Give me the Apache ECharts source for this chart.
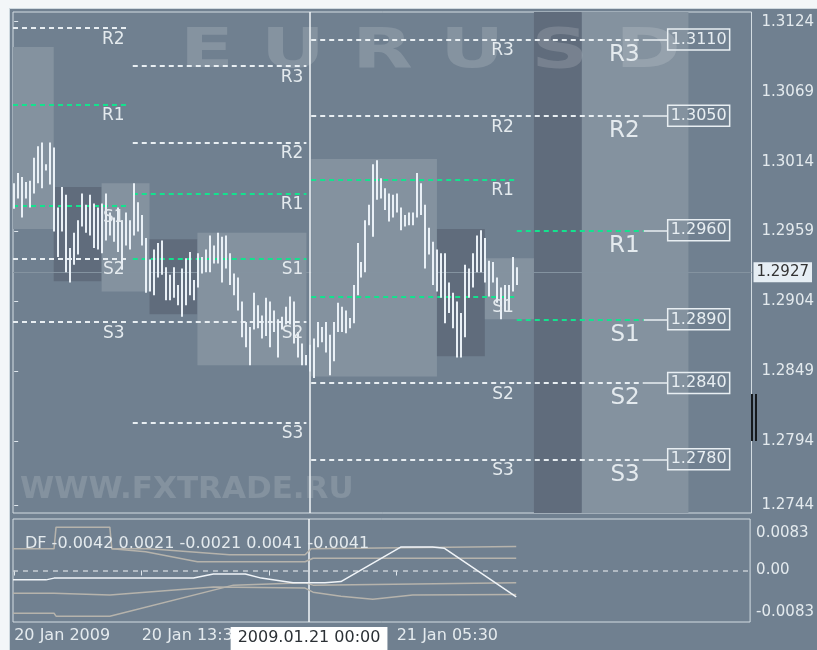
<!DOCTYPE html>
<html>
<head>
<meta charset="utf-8">
<title>EURUSD pivots</title>
<script src="https://cdn.jsdelivr.net/npm/echarts@6/dist/echarts.min.js"></script>
<style>
  html, body { margin: 0; padding: 0; background: #f3f6f8; }
  #chart { width: 817px; height: 650px; }
</style>
</head>
<body>
<div id="chart"></div>
<script>
// M15 bars, index 0 = 20 Jan 05:30, one step = 15 min
const barHigh = [
  1.2997, 1.3005, 1.3002, 1.2998, 1.2999, 1.3017, 1.3026, 1.3029, 1.3012, 1.3029,
  1.3025, 1.2978, 1.2994, 1.2988, 1.2946, 1.2958, 1.2968, 1.2989, 1.2980, 1.2988,
  1.2981, 1.2978, 1.2981, 1.2989, 1.2974, 1.2970, 1.2978, 1.2968, 1.2974, 1.2968,
  1.2997, 1.2982, 1.2972, 1.2954, 1.2937, 1.2945, 1.2950, 1.2952, 1.2931, 1.2925,
  1.2931, 1.2917, 1.2930, 1.2938, 1.2943, 1.2921, 1.2942, 1.2939, 1.2945, 1.2956,
  1.2948, 1.2958, 1.2955, 1.2956, 1.2942, 1.2926, 1.2923, 1.2904, 1.2888, 1.2884,
  1.2911, 1.2901, 1.2893, 1.2907, 1.2904, 1.2897, 1.2890, 1.2892, 1.2900, 1.2908,
  1.2904, 1.2880, 1.2871, 1.2862, 1.2870, 1.2875, 1.2888, 1.2884, 1.2888, 1.2878,
  1.2888, 1.2903, 1.2900, 1.2897, 1.2891, 1.2917, 1.2950, 1.2935, 1.2968, 1.2980,
  1.3012, 1.3015, 1.3001, 1.2993, 1.2989, 1.2988, 1.2989, 1.2978, 1.2972, 1.2974,
  1.2974, 1.3005, 1.2997, 1.2980, 1.2962, 1.2951, 1.2945, 1.2942, 1.2942, 1.2919,
  1.2911, 1.2904, 1.2895, 1.2933, 1.2930, 1.2942, 1.2956, 1.2960, 1.2954, 1.2936,
  1.2935, 1.2923, 1.2915, 1.2917, 1.2917, 1.2939, 1.2931
];
const barLow = [
  1.2977, 1.2985, 1.2970, 1.2985, 1.2978, 1.2989, 1.2997, 1.2993, 1.3007, 1.2996,
  1.2959, 1.2939, 1.2959, 1.2927, 1.2919, 1.2933, 1.2941, 1.2963, 1.2958, 1.2956,
  1.2946, 1.2945, 1.2942, 1.2952, 1.2956, 1.2951, 1.2943, 1.2929, 1.2948, 1.2945,
  1.2956, 1.2959, 1.2948, 1.2911, 1.2912, 1.2909, 1.2923, 1.2925, 1.2905, 1.2905,
  1.2907, 1.2901, 1.2892, 1.2901, 1.2909, 1.2905, 1.2915, 1.2926, 1.2927, 1.2927,
  1.2934, 1.2934, 1.2919, 1.2930, 1.2917, 1.2909, 1.2897, 1.2876, 1.2868, 1.2854,
  1.2882, 1.2883, 1.2875, 1.2877, 1.2868, 1.2880, 1.2860, 1.2882, 1.2886, 1.2886,
  1.2871, 1.2860, 1.2854, 1.2854, 1.2849, 1.2844, 1.2868, 1.2872, 1.2864, 1.2846,
  1.2857, 1.2880, 1.2880, 1.2879, 1.2883, 1.2887, 1.2909, 1.2923, 1.2927, 1.2964,
  1.2955, 1.2984, 1.2985, 1.2976, 1.2967, 1.2970, 1.2974, 1.2960, 1.2963, 1.2964,
  1.2964, 1.2970, 1.2972, 1.2930, 1.2941, 1.2917, 1.2912, 1.2907, 1.2887, 1.2895,
  1.2883, 1.2860, 1.2860, 1.2876, 1.2907, 1.2915, 1.2927, 1.2927, 1.2919, 1.2908,
  1.2919, 1.2903, 1.2890, 1.2896, 1.2897, 1.2912, 1.2917
];
const lastPrice = 1.2927;

// session boxes: [from, to, high, low, kind]  kind 1 = light, 0 = dark
const sessionBoxes = [
  [-0.3, 9.9, 1.3104, 1.2961, 1],
  [9.9, 21.9, 1.2994, 1.2920, 0],
  [21.9, 33.9, 1.2997, 1.2912, 1],
  [33.9, 45.9, 1.2953, 1.2894, 0],
  [45.9, 73.2, 1.2958, 1.2854, 1],
  [74.4, 105.9, 1.3016, 1.2845, 1],
  [105.9, 117.9, 1.2961, 1.2861, 0],
  [117.9, 130.2, 1.2938, 1.2890, 1]
];
// full height zones in the future part: [from, to, kind]
const futureZones = [
  [130.2, 142.2, 0],
  [142.2, 168.9, 1]
];

// pivot levels R3 R2 R1 S1 S2 S3
const pivotNames = ['R3', 'R2', 'R1', 'S1', 'S2', 'S3'];
const pivotsJan19 = [null, 1.3119, 1.3059, 1.2979, 1.2938, 1.2888];
const pivotsJan20 = [1.3089, 1.3029, 1.2989, 1.2938, 1.2888, 1.2809];
const pivotsJan21 = [1.3110, 1.3050, 1.3000, 1.2908, 1.2840, 1.2780];
const pivotsJan22 = [1.3110, 1.3050, 1.2960, 1.2890, 1.2840, 1.2780];
const spanJan19 = [-0.3, 28.4];
const spanJan20 = [29.7, 73.2];
const spanJan21 = [74.4, 125.9];
const spanJan22 = [125.9, 157.7];
const spanTag = [157.7, 163.7];

const priceTicks = [1.3124, 1.3069, 1.3014, 1.2959, 1.2904, 1.2849, 1.2794, 1.2744];
const timeTicks = [0, 32, 64, 96];
const timeLabels = ['20 Jan 2009', '20 Jan 13:30', '20 Jan 21:30', '21 Jan 05:30'];
const crossIdx = 74;
const crossLabel = '2009.01.21 00:00';

// DF indicator
const dfValues = [-0.0042, 0.0021, -0.0021, 0.0041, -0.0041];
const dfTicks = [0.0083, 0, -0.0083];
const dfTickLabels = ['0.0083', '0.00', '-0.0083'];
const dfMain = [[-0.3, -0.0016], [8, -0.0016], [10, -0.0013], [45, -0.0013], [50, -0.0006], [58, -0.0006],
  [62, -0.0013], [70, -0.0021], [78, -0.0021], [82, -0.0019], [97, 0.0040], [105, 0.0040], [108, 0.0038], [126, -0.0045]];
const dfUp1 = [[-0.3, 0.0037], [10, 0.0037], [10.5, 0.0074], [24, 0.0074], [24.5, 0.0037], [34, 0.0037],
  [54, 0.0027], [73, 0.0027], [74.5, 0.0037], [126, 0.0041]];
const dfUp2 = [[24.5, 0.0037], [33, 0.0032], [46, 0.0015], [73, 0.0015], [75, 0.0021], [126, 0.0021]];
const dfDn1 = [[-0.3, -0.0039], [10, -0.0039], [10.5, -0.0042], [24, -0.0042], [50, -0.0028], [73, -0.0030],
  [75, -0.0037], [82, -0.0044], [90, -0.0049], [100, -0.0042], [126, -0.0041]];
const dfDn2 = [[-0.3, -0.0073], [10, -0.0073], [10.5, -0.0078], [24, -0.0078], [55, -0.0025], [73, -0.0021],
  [75, -0.0025], [126, -0.0021]];

const bg = '#708090', lightZone = '#84929f', darkZone = '#606c7c';
const txt = '#e4eaee', white = '#e8eef2', green = '#14e28e', dfGray = '#b6b3ac';

function pivotLines(levels, span, label) {
  let out = []
  levels.forEach((v, k) => {
    if (v == null) return
    out.push([{
      coord: [span[0], v],
      lineStyle: {color: (k === 2 || k === 3) ? green : white, type: [5, 4], width: 2},
      label: Object.assign({show: true, position: 'insideEndBottom', formatter: pivotNames[k]}, label)
    }, {coord: [span[1], v]}])
  })
  return out
}

let pivotData = []
  .concat(pivotLines(pivotsJan19, spanJan19, {color: txt, fontSize: 17, distance: 3}))
  .concat(pivotLines(pivotsJan20, spanJan20, {color: txt, fontSize: 17, distance: 3}))
  .concat(pivotLines(pivotsJan21, spanJan21, {color: txt, fontSize: 17, distance: 3}))
  .concat(pivotLines(pivotsJan22, spanJan22, {color: txt, fontSize: 23, distance: 4}))

pivotsJan22.forEach(v => {
  pivotData.push([{
    coord: [spanTag[0], v],
    lineStyle: {color: white, type: 'solid', width: 1.5},
    label: {show: true, position: 'end', distance: 0, formatter: v.toFixed(4), color: white, fontSize: 16,
      borderColor: white, borderWidth: 1.5, padding: [3, 3, 2, 3]}
  }, {coord: [spanTag[1], v]}])
})

pivotData.push({
  yAxis: lastPrice,
  lineStyle: {color: '#8493a0', type: 'solid', width: 1},
  label: {show: true, position: 'end', distance: 2, formatter: lastPrice.toFixed(4), color: '#333', fontSize: 15,
    backgroundColor: '#e6eef4', padding: [3, 3, 2, 3]}
})

let bars = barHigh.map((h, i) => [i, h, barLow[i]])

let chart = echarts.init(document.getElementById('chart'))
let option = {
  animation: false,
  backgroundColor: bg,
  textStyle: {fontFamily: 'DejaVu Sans'},
  title: {
    text: 'DF ' + dfValues.map(v => v.toFixed(4)).join(' '),
    left: 20, top: 531,
    textStyle: {color: txt, fontSize: 16, fontWeight: 'normal'}
  },
  graphic: [
    {type: 'rect', z: 50, shape: {x: 0, y: 0, width: 817, height: 8}, style: {fill: '#f3f6f8'}},
    {type: 'rect', z: 50, shape: {x: 0, y: 0, width: 9, height: 650}, style: {fill: '#f3f6f8'}},
    {type: 'line', z: 50, shape: {x1: 9, y1: 8.5, x2: 817, y2: 8.5}, style: {stroke: '#cfd9df', lineWidth: 1}},
    {type: 'line', z: 50, shape: {x1: 9.5, y1: 8, x2: 9.5, y2: 650}, style: {stroke: '#cfd9df', lineWidth: 1}},
    {type: 'text', z: 3, x: 180, y: 25, scaleX: 1.43,
      style: {text: 'E U R U S D', font: 'bold 55px DejaVu Sans', fill: 'rgba(255,255,255,0.15)', align: 'left', verticalAlign: 'top'}},
    {type: 'text', z: 3, x: 20, y: 474,
      style: {text: 'WWW.FXTRADE.RU', font: 'bold 31px DejaVu Sans', fill: 'rgba(255,255,255,0.14)', align: 'left', verticalAlign: 'top'}},
    {type: 'line', z: 50, shape: {x1: 752, y1: 394, x2: 752, y2: 441}, style: {stroke: '#161a1e', lineWidth: 2}},
    {type: 'line', z: 50, shape: {x1: 756, y1: 394, x2: 756, y2: 441}, style: {stroke: '#161a1e', lineWidth: 2}}
  ],
  grid: [
    {left: 13, top: 12, width: 740, height: 501, show: true, borderColor: '#d3dce2', borderWidth: 1, backgroundColor: 'transparent'},
    {left: 13, top: 519, width: 740, height: 103, show: true, borderColor: '#d3dce2', borderWidth: 1, backgroundColor: 'transparent'}
  ],
  xAxis: [
    {type: 'value', gridIndex: 0, min: -0.3, max: 184.7, axisLine: {show: false}, axisTick: {show: false},
      axisLabel: {show: false}, splitLine: {show: false}},
    {type: 'value', gridIndex: 1, min: -0.3, max: 184.7, axisLine: {show: false},
      axisTick: {show: true, customValues: timeTicks, length: 5, lineStyle: {color: '#dfe6ec'}},
      axisLabel: {customValues: timeTicks, formatter: v => timeLabels[timeTicks.indexOf(v)] || '',
        align: 'left', color: txt, fontSize: 16, margin: 6},
      splitLine: {show: false}}
  ],
  yAxis: [
    {type: 'value', gridIndex: 0, position: 'right', min: 1.27378, max: 1.31316, axisLine: {show: false},
      axisTick: {show: true, customValues: priceTicks, length: 4, lineStyle: {color: '#dfe6ec'}},
      axisLabel: {customValues: priceTicks, formatter: v => v.toFixed(4), color: txt, fontSize: 15, margin: 10},
      splitLine: {show: false}},
    {type: 'value', gridIndex: 1, position: 'right', min: -0.0088, max: 0.0088, axisLine: {show: false},
      axisTick: {show: false},
      axisLabel: {customValues: dfTicks, margin: 6,
        formatter: v => {
          let s = dfTickLabels[dfTicks.indexOf(v)]
          return v > 0 ? '{t|' + s + '}' : v < 0 ? '{b|' + s + '}' : '{m|' + s + '}'
        },
        rich: {
          t: {color: txt, fontSize: 15, padding: [22, 0, 0, 0]},
          m: {color: txt, fontSize: 15},
          b: {color: txt, fontSize: 15, padding: [0, 0, 14, 0]}
        }},
      splitLine: {show: false}}
  ],
  series: [
    {
      name: 'sessions', type: 'custom', xAxisIndex: 0, yAxisIndex: 0, z: 2,
      data: sessionBoxes,
      renderItem: (params, api) => {
        let p0 = api.coord([api.value(0), api.value(2)])
        let p1 = api.coord([api.value(1), api.value(3)])
        return {
          type: 'rect',
          shape: {x: p0[0], y: p0[1], width: p1[0] - p0[0], height: p1[1] - p0[1]},
          style: {fill: api.value(4) ? lightZone : darkZone}
        }
      },
      markArea: {
        silent: true,
        data: futureZones.map(z => [{xAxis: z[0], itemStyle: {color: z[2] ? lightZone : darkZone}}, {xAxis: z[1]}])
      }
    },
    {
      name: 'pivots', type: 'line', xAxisIndex: 0, yAxisIndex: 0, z: 4, data: [],
      markLine: {silent: true, precision: 5, symbol: ['none', 'none'], data: pivotData}
    },
    {
      name: 'EURUSD', type: 'custom', xAxisIndex: 0, yAxisIndex: 0, z: 5,
      data: bars,
      renderItem: (params, api) => {
        let top = api.coord([api.value(0), api.value(1)])
        let bot = api.coord([api.value(0), api.value(2)])
        return {
          type: 'rect',
          shape: {x: Math.round(top[0]) - 1, y: top[1], width: 2, height: Math.max(bot[1] - top[1], 1)},
          style: {fill: '#e9f0f6'}
        }
      }
    },
    {
      name: 'cross', type: 'line', xAxisIndex: 0, yAxisIndex: 0, z: 10, data: [],
      markLine: {silent: true, symbol: ['none', 'none'], label: {show: false},
        lineStyle: {color: '#f2f6f9', width: 1.5, type: 'solid'}, data: [{xAxis: crossIdx}]}
    },
    {
      name: 'cross2', type: 'line', xAxisIndex: 1, yAxisIndex: 1, z: 10, data: [],
      markLine: {silent: true, symbol: ['none', 'none'],
        lineStyle: {color: '#f2f6f9', width: 1.5, type: 'solid'},
        label: {show: true, position: 'start', formatter: crossLabel, backgroundColor: '#ffffff', color: '#2b3035',
          fontSize: 16, padding: [3, 7, 5, 7], distance: 5},
        data: [{xAxis: crossIdx}]}
    },
    {
      name: 'DF', type: 'line', xAxisIndex: 1, yAxisIndex: 1, z: 6, data: dfMain, symbol: 'none',
      lineStyle: {color: '#f0f4f8', width: 1.5},
      markLine: {silent: true, symbol: ['none', 'none'], label: {show: false},
        lineStyle: {color: '#c6cdd3', width: 1.5, type: [5, 5]}, data: [{yAxis: 0}]}
    },
    {name: 'up1', type: 'line', xAxisIndex: 1, yAxisIndex: 1, z: 5, data: dfUp1, symbol: 'none', lineStyle: {color: dfGray, width: 1.5}},
    {name: 'up2', type: 'line', xAxisIndex: 1, yAxisIndex: 1, z: 5, data: dfUp2, symbol: 'none', lineStyle: {color: dfGray, width: 1.5}},
    {name: 'dn1', type: 'line', xAxisIndex: 1, yAxisIndex: 1, z: 5, data: dfDn1, symbol: 'none', lineStyle: {color: dfGray, width: 1.5}},
    {name: 'dn2', type: 'line', xAxisIndex: 1, yAxisIndex: 1, z: 5, data: dfDn2, symbol: 'none', lineStyle: {color: dfGray, width: 1.5}}
  ]
}
chart.setOption(option)
</script>
</body>
</html>
